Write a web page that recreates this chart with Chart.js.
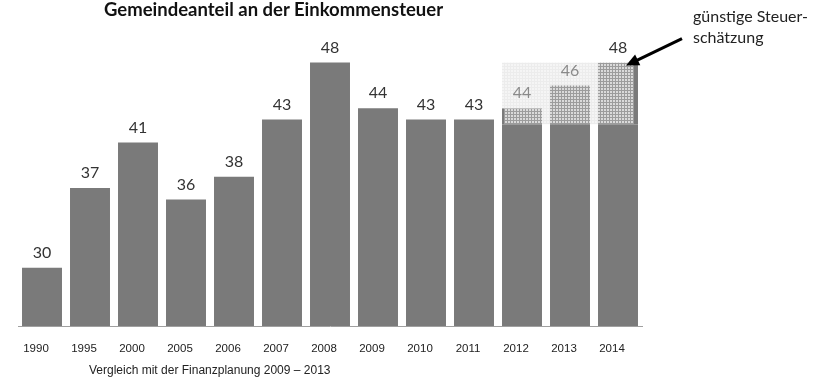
<!DOCTYPE html>
<html>
<head>
<meta charset="utf-8">
<script src="https://cdn.jsdelivr.net/npm/chart.js@4.4.0/dist/chart.umd.min.js"></script>
<style>
    body { margin: 0; background: #fff; }
    #wrap { position: relative; width: 834px; height: 379px; overflow: hidden; }
    #title { position: absolute; left: 104px; top: -2px; font: bold 18.5px Lato, sans-serif; color: #111; white-space: nowrap; }
    #note { position: absolute; left: 693px; top: 5px; font: 16px Lato, sans-serif; color: #222; line-height: 21px; }
    #foot { position: absolute; left: 89px; top: 363px; font: 12px "Liberation Sans", Arial, sans-serif; color: #222; white-space: nowrap; }
</style>
</head>
<body>
<div id="wrap">
    <canvas id="shareChart" width="834" height="379"></canvas>
    <div id="title">Gemeindeanteil an der Einkommensteuer</div>
    <div id="note">günstige Steuer-<br>schätzung</div>
    <div id="foot">Vergleich mit der Finanzplanung 2009 – 2013</div>
</div>
<script>
const years = ['1990', '1995', '2000', '2005', '2006', '2007', '2008', '2009', '2010', '2011', '2012', '2013', '2014'];
const shares = [30, 37, 41, 36, 38, 43, 48, 44, 43, 43, null, null, null];
// Finanzplanung 2009-2013 and the newer tax estimate for the last three years
const planned = [null, null, null, null, null, null, null, null, null, null, 42.6, 42.6, 42.6];
const estimate = [null, null, null, null, null, null, null, null, null, null, 44, 46, 48];

function gridPattern(bg, line, size) {
    const c = document.createElement('canvas');
    c.width = c.height = size;
    const g = c.getContext('2d');
    g.fillStyle = bg;
    g.fillRect(0, 0, size, size);
    g.fillStyle = line;
    g.fillRect(0, 0, size, 1);
    g.fillRect(0, 0, 1, size);
    return g.createPattern(c, 'repeat');
}

const hatch = gridPattern('#dadada', '#9c9c9c', 3);
const boxFill = gridPattern('#f5f5f5', '#ececec', 3);

const extras = {
    id: 'extras',
    beforeDatasetsDraw(chart) {
        // pale box behind the estimate bars
        const ctx = chart.ctx;
        const meta = chart.getDatasetMeta(2);
        const y = chart.scales.y;
        const first = meta.data[10], last = meta.data[12];
        const left = first.x - first.width / 2;
        const right = last.x + last.width / 2;
        const top = y.getPixelForValue(Math.max(...estimate.filter(v => v != null)));
        const bottom = y.getPixelForValue(planned[10]);
        ctx.save();
        ctx.fillStyle = boxFill;
        ctx.fillRect(left, top, right - left, bottom - top);
        ctx.restore();
    },
    afterDatasetsDraw(chart) {
        const ctx = chart.ctx;
        const y = chart.scales.y;
        const x = chart.scales.x;
        ctx.save();
        ctx.font = '16px Lato, sans-serif';
        ctx.textAlign = 'center';
        ctx.textBaseline = 'middle';
        years.forEach((yr, i) => {
            const v = shares[i] != null ? shares[i] : estimate[i];
            ctx.fillStyle = (shares[i] == null && i < 12) ? '#8a8a8a' : '#333';
            ctx.fillText(String(v), x.getPixelForValue(i), y.getPixelForValue(v) - 15);
        });

        // arrow to the 2014 estimate
        const el = chart.getDatasetMeta(2).data[12];
        const tx = el.x + el.width / 2 - 12;
        const ty = y.getPixelForValue(estimate[12]) + 3;
        const sx = tx + 56, sy = ty - 27;
        const ang = Math.atan2(ty - sy, tx - sx);
        ctx.strokeStyle = '#000';
        ctx.fillStyle = '#000';
        ctx.lineWidth = 3;
        ctx.beginPath();
        ctx.moveTo(sx, sy);
        ctx.lineTo(tx - 8 * Math.cos(ang), ty - 8 * Math.sin(ang));
        ctx.stroke();
        ctx.beginPath();
        ctx.moveTo(tx, ty);
        ctx.lineTo(tx - 13 * Math.cos(ang) + 6 * Math.sin(ang), ty - 13 * Math.sin(ang) - 6 * Math.cos(ang));
        ctx.lineTo(tx - 13 * Math.cos(ang) - 6 * Math.sin(ang), ty - 13 * Math.sin(ang) + 6 * Math.cos(ang));
        ctx.closePath();
        ctx.fill();
        ctx.restore();
    }
};

const ctx = document.getElementById('shareChart');

new Chart(ctx, {
    type: 'bar',
    data: {
        labels: years,
        datasets: [{
            label: 'Gemeindeanteil',
            data: shares,
            backgroundColor: '#7a7a7a',
            borderWidth: 0
        }, {
            label: 'Finanzplanung',
            data: planned,
            backgroundColor: '#7a7a7a',
            borderWidth: 0
        }, {
            label: 'Steuerschätzung',
            data: estimate.map((v, i) => v == null ? null : [planned[i], v]),
            backgroundColor: hatch,
            borderColor: '#7a7a7a',
            borderSkipped: false,
            borderWidth: c => c.dataIndex === 10 ? { left: 2, right: 0, top: 0, bottom: 0 }
                : c.dataIndex === 12 ? { left: 0, right: 4, top: 0, bottom: 0 } : 0
        }]
    },
    options: {
        responsive: false,
        animation: false,
        events: [],
        grouped: false,
        categoryPercentage: 1,
        barPercentage: 0.833,
        layout: {
            padding: { top: 17, left: 18, right: 192, bottom: 7.2 }
        },
        plugins: {
            legend: { display: false },
            tooltip: { enabled: false }
        },
        scales: {
            x: {
                grid: { display: false, drawTicks: false },
                border: { display: true, color: '#a0a0a0', width: 1 },
                ticks: {
                    padding: 16,
                    labelOffset: -6,
                    color: '#222',
                    font: { family: '"Liberation Sans", Arial, sans-serif', size: 11.5 }
                }
            },
            y: {
                display: false,
                min: 24.9,
                max: 52
            }
        }
    },
    plugins: [extras]
});
</script>
</body>
</html>
